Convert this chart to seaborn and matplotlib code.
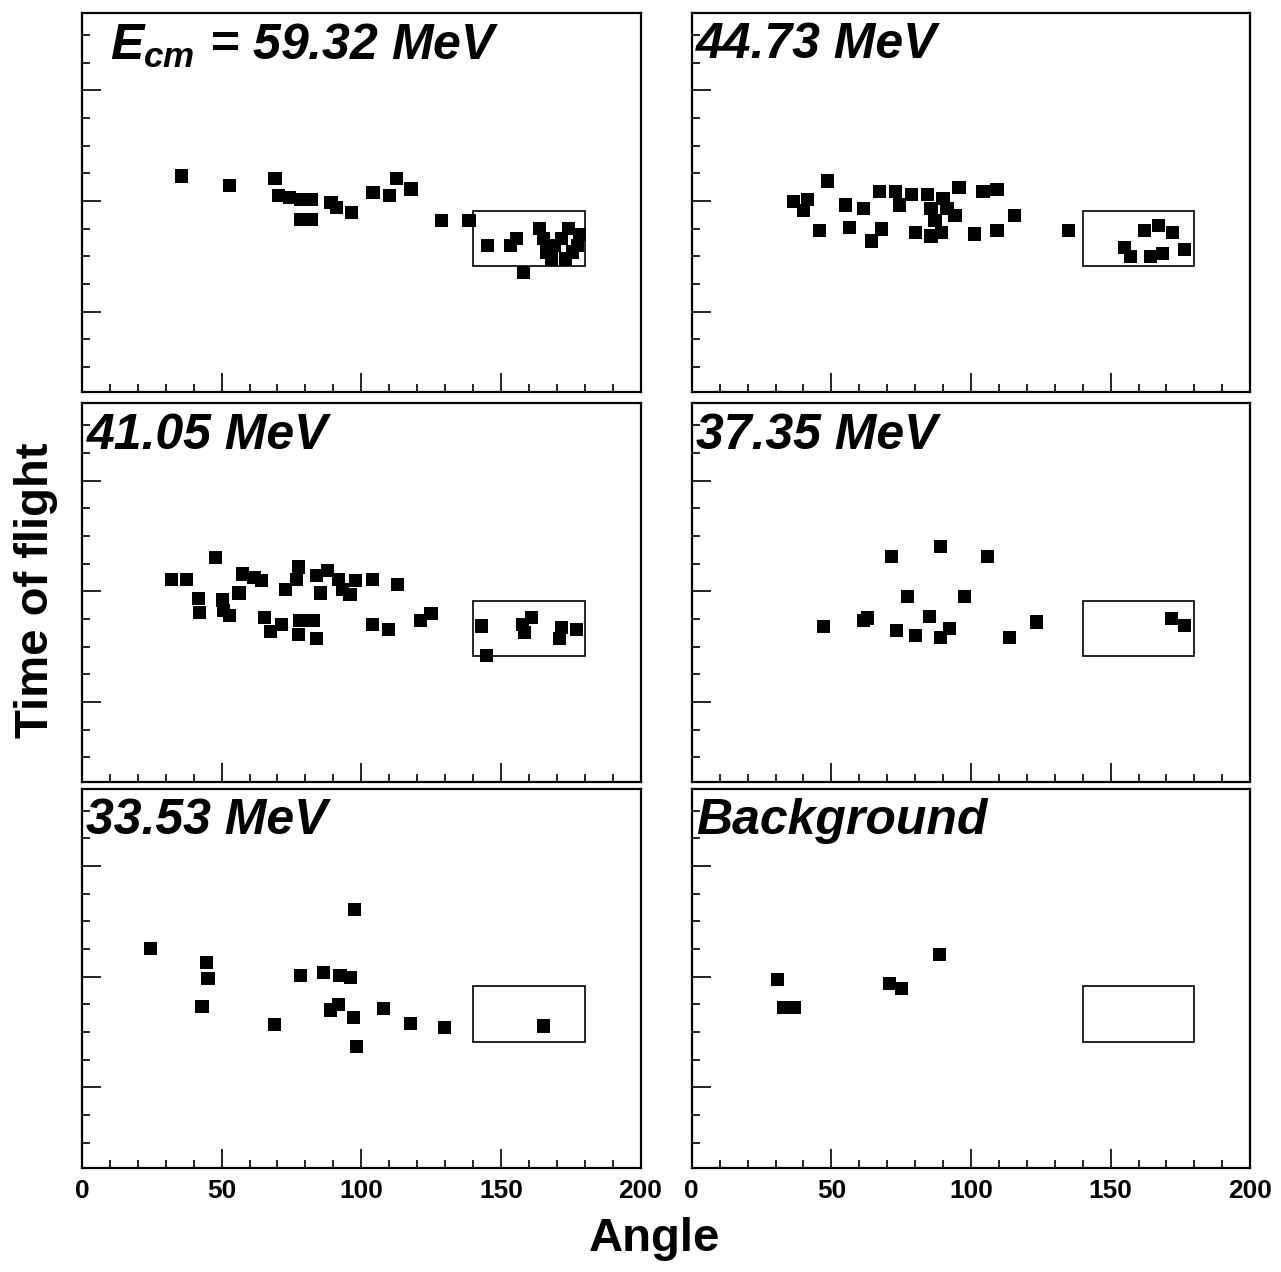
import numpy as np
import pandas as pd
import seaborn as sns
import matplotlib.pyplot as plt
from matplotlib.patches import Rectangle
from matplotlib.ticker import MultipleLocator, FixedLocator

# angle (deg) and time of flight (arbitrary channel units)
angle_5932 = [35.7, 52.9, 69.1, 70.4, 74.3, 78.2, 82.1, 78.2, 82.1, 89.2, 91.2, 96.4,
              104.2, 110.0, 112.6, 117.8, 128.6, 138.6, 145.1, 153.5, 155.5, 163.9,
              158.0, 165.2, 166.5, 169.0, 171.7, 174.3, 175.6, 177.5, 173.0, 168.0, 178.2]
tof_5932 = [6.9, 6.55, 6.8, 6.18, 6.12, 6.06, 6.06, 5.32, 5.32, 5.94, 5.75, 5.57,
            6.31, 6.18, 6.8, 6.43, 5.29, 5.29, 4.4, 4.4, 4.65, 4.99,
            3.42, 4.65, 4.15, 4.4, 4.65, 5.0, 4.15, 4.4, 3.9, 3.9, 4.77]

angle_4473 = [48.6, 36.4, 41.4, 40.0, 45.7, 55.0, 56.4, 61.4, 64.3, 67.9, 67.1,
              72.9, 78.6, 84.3, 90.0, 95.7, 104.3, 109.3, 74.3, 85.7, 91.4, 87.1, 94.3,
              80.0, 85.7, 89.3, 101.4, 109.3, 115.7, 135.0,
              155.0, 157.1, 162.1, 167.1, 172.1, 164.3, 168.6, 176.4]
tof_4473 = [6.72, 5.98, 6.04, 5.66, 4.92, 5.85, 5.04, 5.73, 4.55, 4.98, 6.35,
            6.35, 6.22, 6.22, 6.1, 6.47, 6.35, 6.41, 5.85, 5.73, 5.73, 5.29, 5.48,
            4.86, 4.73, 4.86, 4.8, 4.92, 5.48, 4.92,
            4.3, 3.99, 4.92, 5.1, 4.86, 3.99, 4.11, 4.24]

angle_4105 = [32.0, 37.3, 47.9, 41.6, 42.2, 50.2, 50.8, 52.9, 56.2, 57.6, 61.6, 64.2,
              65.5, 67.5, 71.4, 77.4, 76.8, 72.8, 78.1, 77.4, 82.7, 84.1,
              84.1, 88.0, 92.0, 98.0, 85.4, 96.0, 93.4, 104.0, 113.0, 104.0, 109.7,
              121.2, 125.0, 143.2, 144.9, 157.8, 161.0, 158.4, 171.0, 171.7, 177.0]
tof_4105 = [6.44, 6.44, 7.21, 5.75, 5.25, 5.69, 5.31, 5.13, 5.94, 6.63, 6.5, 6.38,
            5.06, 4.56, 4.81, 6.88, 6.44, 6.06, 4.94, 4.44, 4.94, 4.31,
            6.56, 6.75, 6.44, 6.38, 5.94, 5.88, 6.06, 6.44, 6.25, 4.81, 4.63,
            4.94, 5.19, 4.75, 3.69, 4.81, 5.06, 4.5, 4.31, 4.69, 4.63]

angle_3735 = [47.1, 62.8, 61.6, 71.4, 89.1, 105.8, 77.2, 97.8, 85.2, 73.2, 80.1,
              89.1, 92.3, 113.8, 123.6, 171.7, 176.4]
tof_3735 = [4.72, 5.04, 4.94, 7.25, 7.63, 7.25, 5.8, 5.82, 5.1, 4.59, 4.41,
            4.34, 4.66, 4.34, 4.89, 5.01, 4.78]

angle_3353 = [24.5, 44.6, 45.1, 43.0, 78.3, 86.5, 92.4, 96.2, 97.5, 89.0, 91.8,
              97.3, 98.2, 108.0, 117.6, 68.8, 129.9, 165.2]
tof_3353 = [7.02, 6.53, 5.94, 4.93, 6.06, 6.16, 6.04, 5.98, 8.44, 4.8, 4.99,
            4.52, 3.47, 4.84, 4.31, 4.27, 4.16, 4.22]

angle_bkg = [30.7, 32.8, 36.9, 70.8, 75.2, 88.6]
tof_bkg = [5.91, 4.9, 4.9, 5.75, 5.58, 6.8]

panel_labels = [r"$E_{cm}$ = 59.32 MeV", "44.73 MeV", "41.05 MeV",
                "37.35 MeV", "33.53 MeV", "Background"]
panel_angles = [angle_5932, angle_4473, angle_4105, angle_3735, angle_3353, angle_bkg]
panel_tofs = [tof_5932, tof_4473, tof_4105, tof_3735, tof_3353, tof_bkg]

# gate window (angle 140-180, tof band)
gate_angle = [140, 180]
gate_tof = [3.65, 5.65]

xtick_labels = ["0", "50", "100", "150", "200"]

sns.set_theme(style="white")
plt.rcParams['font.family'] = ['Liberation Sans', 'DejaVu Sans']
plt.rcParams['mathtext.fontset'] = 'custom'
plt.rcParams['mathtext.it'] = 'Liberation Sans:italic:bold'
plt.rcParams['mathtext.rm'] = 'Liberation Sans:bold'
plt.rcParams['text.color'] = 'black'
plt.rcParams['xtick.color'] = 'black'
plt.rcParams['xtick.labelcolor'] = 'black'

fig = plt.figure(figsize=(12.81, 12.72), dpi=100)

col_left = [0.064, 0.540]
col_w = [0.436, 0.436]
row_bottom = [0.692, 0.385, 0.082]
row_h = 0.298

for i in range(6):
    r, c = divmod(i, 2)
    ax = fig.add_axes([col_left[c], row_bottom[r], col_w[c], row_h])
    df = pd.DataFrame({'angle': panel_angles[i], 'tof': panel_tofs[i]})
    ax.add_patch(Rectangle((gate_angle[0], gate_tof[0]),
                           gate_angle[1] - gate_angle[0], gate_tof[1] - gate_tof[0],
                           fill=False, edgecolor='black', linewidth=1.2, zorder=1))
    sns.scatterplot(data=df, x='angle', y='tof', marker='s', s=90, color='black',
                    edgecolor='none', linewidth=0, ax=ax, zorder=2, legend=False)
    ax.set_xlim(0, 200)
    ax.set_ylim(-0.9, 12.8)
    ax.set_xlabel('')
    ax.set_ylabel('')
    ax.xaxis.set_major_locator(FixedLocator([0, 50, 100, 150, 200]))
    ax.xaxis.set_minor_locator(MultipleLocator(10))
    ax.yaxis.set_major_locator(FixedLocator([2, 6, 10]))
    ax.yaxis.set_minor_locator(FixedLocator([0, 1, 3, 4, 5, 7, 8, 9, 11, 12]))
    ax.tick_params(which='major', direction='in', length=14, width=1.2, color='black',
                   bottom=True, left=True, top=False, right=False)
    ax.tick_params(which='minor', direction='in', length=6, width=1.2, color='black',
                   bottom=True, left=True, top=False, right=False)
    ax.set_yticklabels([])
    if r == 2:
        ax.set_xticklabels(xtick_labels, fontsize=19, fontweight='bold', color='black')
        ax.tick_params(axis='x', which='major', pad=8)
    else:
        ax.set_xticklabels([])
    for sp in ax.spines.values():
        sp.set_visible(True)
        sp.set_color('black')
        sp.set_linewidth(1.6)
    tx = 0.05 if i == 0 else 0.008
    ax.text(tx, 0.975, panel_labels[i], transform=ax.transAxes, ha='left', va='top',
            fontsize=36, fontweight='bold', fontstyle='italic', color='black')

fig.text(0.028, 0.536, "Time of flight", rotation=90, ha='center', va='center',
         fontsize=34, fontweight='bold', color='black')
fig.text(0.511, 0.026, "Angle", ha='center', va='center', fontsize=34,
         fontweight='bold', color='black')

fig.savefig('out.png', dpi=100, facecolor='white')
